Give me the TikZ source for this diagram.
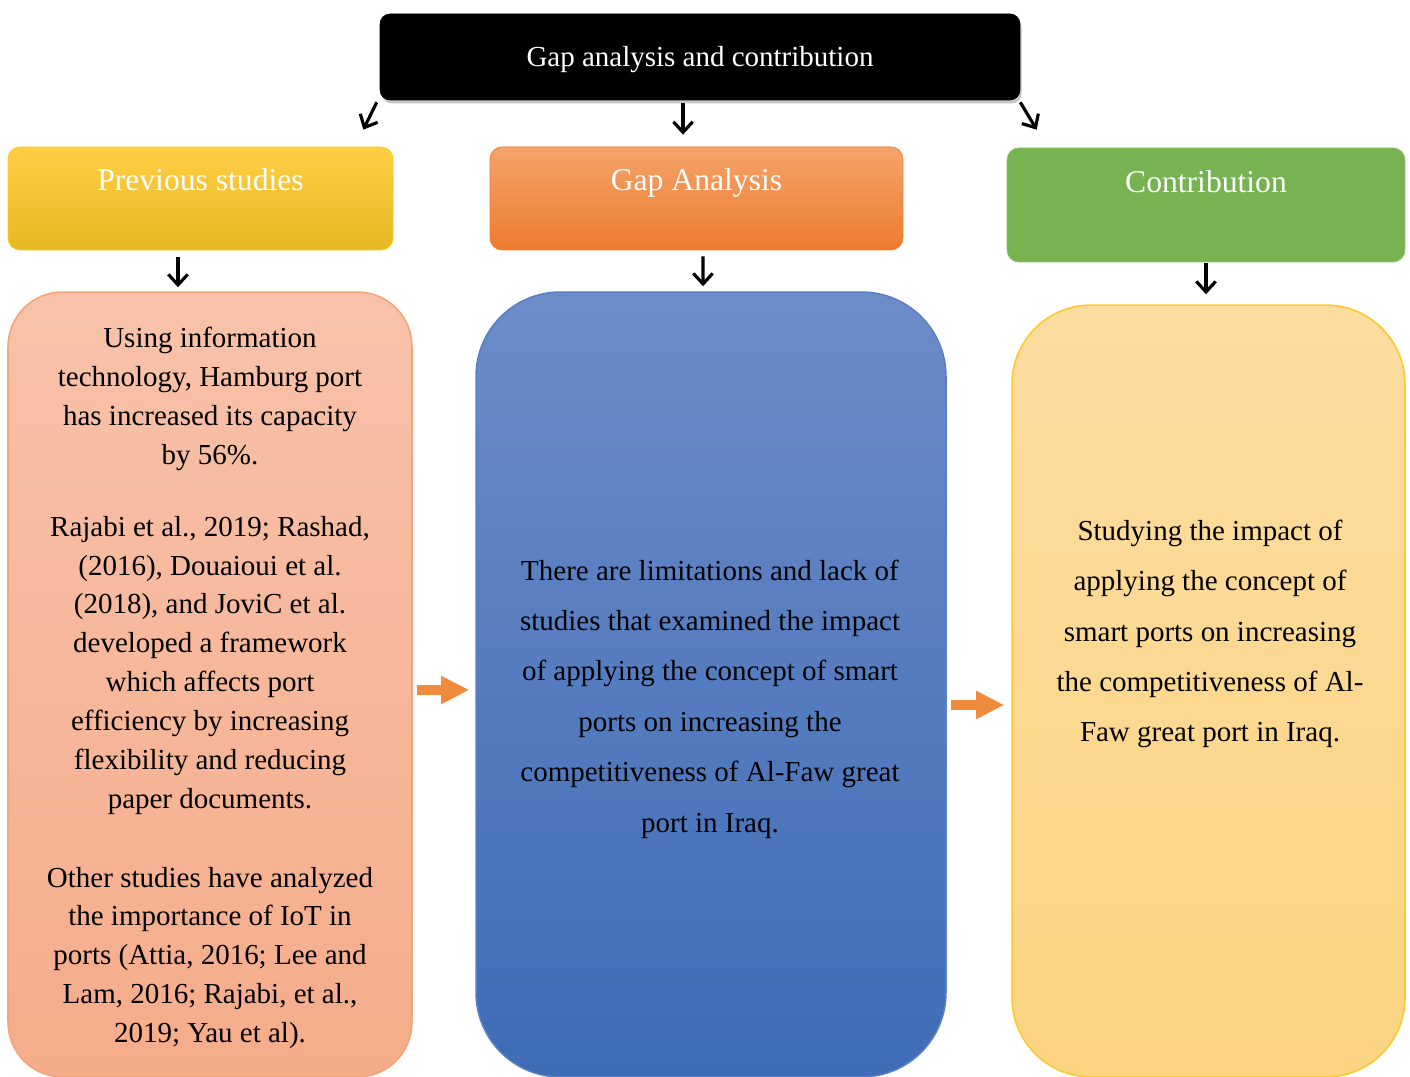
\documentclass[tikz,border=0pt]{standalone}
\usepackage{fontspec}
\setmainfont{Liberation Serif}
\usetikzlibrary{arrows.meta,positioning,calc,shadows}
\definecolor{colPrevHaut}{RGB}{255,206,70}
\definecolor{colPrevMil}{RGB}{255,201,14}
\definecolor{colPrevBas}{RGB}{232,184,34}
\definecolor{colGapHaut}{RGB}{245,163,108}
\definecolor{colGapBas}{RGB}{237,124,44}
\definecolor{colContr}{RGB}{120,179,82}
\definecolor{colSaumon}{RGB}{248,194,170}
\definecolor{colSaumonBas}{RGB}{245,172,138}
\definecolor{colSaumonBord}{RGB}{244,165,120}
\definecolor{colBleuHaut}{RGB}{108,140,201}
\definecolor{colBleuBas}{RGB}{62,108,182}
\definecolor{colJaune}{RGB}{252,221,160}
\definecolor{colJauneBas}{RGB}{252,212,130}
\definecolor{colJauneBord}{RGB}{255,199,44}
\definecolor{colFleche}{RGB}{240,138,60}

\begin{document}
\begin{tikzpicture}[x=0.02cm, y=0.02cm,
    hd/.style={rectangle, rounded corners=6.8pt, draw, thin, inner sep=0pt},
    corps/.style={rectangle, draw, line width=0.9pt, inner sep=0pt},
    htxt/.style={font=\fontsize{18}{22}\selectfont, text=white, inner sep=0pt},
    txt/.style={align=center, inner sep=0pt},
    fl/.style={-{Straight Barb[length=6pt,width=11pt]}, line width=1.8pt},
    gros/.style={-{Triangle[length=16pt,width=15pt]}, line width=6pt, colFleche}]
    \useasboundingbox (0,0) rectangle (1410,1077);
    % titre
    \node[hd, rounded corners=5.7pt, fill=black, draw=black,
      minimum width=12.8cm, minimum height=1.72cm,
      drop shadow={shadow xshift=1pt, shadow yshift=-2pt, opacity=0.45}]
      (top) at (700,1020) {};
    \node[font=\fontsize{16.5}{20}\selectfont, text=white, inner sep=0pt]
      at ([yshift=-0.06cm]top.center) {Gap analysis and contribution};
    % en-tetes
    \node[hd, draw=colPrevMil, top color=colPrevHaut, middle color=colPrevMil,
      bottom color=colPrevBas, minimum width=7.7cm, minimum height=2.06cm]
      (prev) at (200.5,878.5) {};
    \node[hd, draw=colGapBas, top color=colGapHaut, bottom color=colGapBas,
      minimum width=8.26cm, minimum height=2.06cm]
      (gap) at (696.5,878.5) {};
    \node[hd, draw=colContr!85!white, fill=colContr,
      minimum width=7.96cm, minimum height=2.28cm]
      (contr) at (1206,872) {};
    \node[htxt] at ([yshift=-0.66cm]prev.north) {Previous studies};
    \node[htxt] at ([yshift=-0.72cm]gap.north) {Gap Analysis};
    \node[htxt] at ([yshift=-0.68cm]contr.north) {Contribution};
    % corps
    \node[corps, rounded corners=31pt, draw=colSaumonBord,
      top color=colSaumon, bottom color=colSaumonBas,
      minimum width=8.08cm, minimum height=15.7cm]
      (bprev) at (210,392.5) {};
    \node[corps, rounded corners=48pt, draw=colBleuHaut!60!colBleuBas,
      top color=colBleuHaut, bottom color=colBleuBas,
      minimum width=9.4cm, minimum height=15.7cm]
      (bgap) at (711,392.5) {};
    \node[corps, rounded corners=45pt, draw=colJauneBord,
      top color=colJaune, bottom color=colJauneBas,
      minimum width=7.86cm, minimum height=15.44cm]
      (bcontr) at (1208.5,386) {};
    \node[txt, font=\fontsize{16.5}{22.1}\selectfont] (tprev) at (210,389)
      {Using information\\ technology, Hamburg port\\ has increased its capacity\\
       by 56\%.\\[18.9pt]
       Rajabi et al., 2019; Rashad,\\ (2016), Douaioui et al.\\
       (2018), and JoviC et al.\\ developed a framework\\ which affects port\\
       efficiency by increasing\\ flexibility and reducing\\ paper documents.\\[22.9pt]
       Other studies have analyzed\\ the importance of IoT in\\
       ports (Attia, 2016; Lee and\\ Lam, 2016; Rajabi, et al.,\\ 2019; Yau et al).};
    \node[txt, font=\fontsize{16.5}{28.7}\selectfont] (tgap) at (710,378)
      {There are limitations and lack of\\ studies that examined the impact\\
       of applying the concept of smart\\ ports on increasing the\\
       competitiveness of Al-Faw great\\ port in Iraq.};
    \node[txt, font=\fontsize{16.5}{28.5}\selectfont] (tcontr) at (1210,443)
      {Studying the impact of\\ applying the concept of\\
       smart ports on increasing\\ the competitiveness of Al-\\
       Faw great port in Iraq.};
    % fleches
    \draw[fl] ([shift={(-3,-2)}]top.south west) -- ([shift={(-30,17)}]prev.north east);
    \draw[fl] ([shift={(-17,-3)}]top.south) -- ([shift={(-13.5,12)}]gap.north);
    \draw[fl] ([shift={(0,-2)}]top.south east) -- ([shift={(30,18)}]contr.north west);
    \draw[fl] ([shift={(-22.5,-7)}]prev.south) -- ([shift={(-32,4)}]bprev.north);
    \draw[fl] ([shift={(6.5,-6)}]gap.south) -- ([shift={(-8,5)}]bgap.north);
    \draw[fl] ([shift={(0,-1)}]contr.south) -- ([shift={(-2.5,10)}]bcontr.north);
    \draw[gros] ([shift={(4,-5.5)}]bprev.east) -- ([shift={(-6,-5.5)}]bgap.west);
    \draw[gros] ([shift={(4,-20.5)}]bgap.east) -- ([shift={(-7,-14)}]bcontr.west);
  \end{tikzpicture}
\end{document}
